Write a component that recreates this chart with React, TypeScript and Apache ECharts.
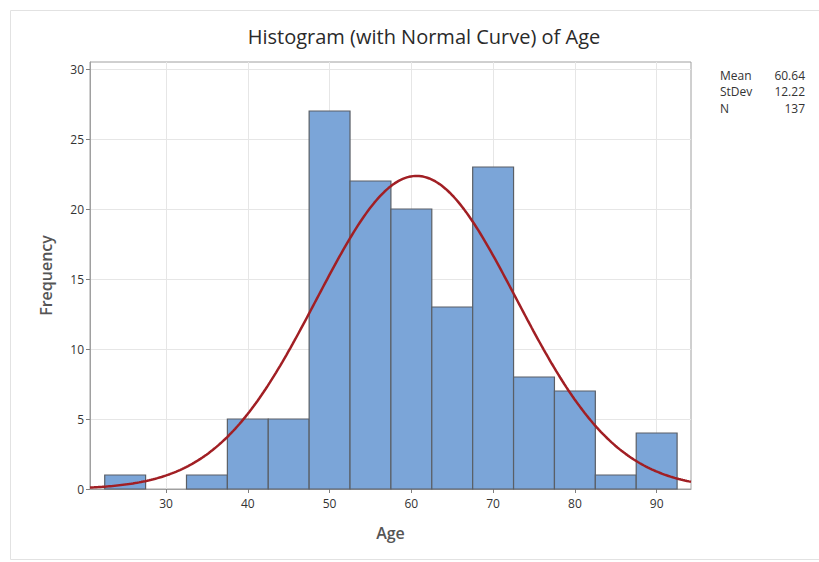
import React, { useEffect, useRef } from "react";
import * as echarts from "echarts";

const binCenters = [25, 30, 35, 40, 45, 50, 55, 60, 65, 70, 75, 80, 85, 90];
const counts = [1, 0, 1, 5, 5, 27, 22, 20, 13, 23, 8, 7, 1, 4];
const binWidth = 5;
const statLabels = ["Mean", "StDev", "N"];
const statValues = ["60.64", "12.22", "137"];
const mean = 60.64;
const stdev = 12.22;
const nObs = 137;
const xTicks = [30, 40, 50, 60, 70, 80, 90];
const yTicks = [0, 5, 10, 15, 20, 25, 30];
const xMin = 20.7;
const xMax = 94.2;
const yMax = 30.5;

const FONT = "'Open Sans', 'Noto Sans', sans-serif";

function normalCurve(): number[][] {
  const pts: number[][] = [];
  const k = (nObs * binWidth) / (stdev * Math.sqrt(2 * Math.PI));
  for (let x = xMin; x <= xMax + 1e-9; x += 0.25) {
    const z = (x - mean) / stdev;
    pts.push([x, k * Math.exp(-0.5 * z * z)]);
  }
  return pts;
}

export default function App() {
  const ref = useRef<HTMLDivElement>(null);
  useEffect(() => {
    if (!ref.current) return;
    const chart = echarts.init(ref.current, undefined, { renderer: "svg" });
    const histData = binCenters.map((c, i) => [c, counts[i]]);
    const statGraphics: any[] = [];
    statLabels.forEach((l, i) => {
      statGraphics.push({
        type: "text",
        left: 720,
        top: 69 + i * 16.5,
        style: { text: l, font: `12px ${FONT}`, fill: "#333" },
      });
      statGraphics.push({
        type: "text",
        right: 14,
        top: 69 + i * 16.5,
        style: { text: statValues[i], font: `12px ${FONT}`, fill: "#333", textAlign: "right" },
      });
    });
    chart.setOption({
      animation: false,
      backgroundColor: "#fff",
      title: {
        text: "Histogram (with Normal Curve) of Age",
        left: 419,
        textAlign: "center",
        top: 21,
        textStyle: { fontFamily: FONT, fontSize: 20, fontWeight: 500, color: "#2a2a2a" },
      },
      graphic: [
        {
          type: "rect",
          shape: { x: 10.5, y: 10.5, width: 830, height: 549 },
          style: { fill: "none", stroke: "#e2e2e2", lineWidth: 1 },
          silent: true,
        },
        ...statGraphics,
      ],
      grid: {
        left: 90,
        right: 128,
        top: 62,
        bottom: 73,
        show: true,
        borderColor: "#a0a0a0",
        borderWidth: 1,
        backgroundColor: "transparent",
      },
      xAxis: {
        type: "value",
        min: xMin,
        max: xMax,
        name: "Age",
        nameLocation: "middle",
        nameGap: 36,
        nameTextStyle: { fontFamily: FONT, fontSize: 16, fontWeight: 600, color: "#555" },
        axisLine: { show: true, onZero: false, lineStyle: { color: "#a0a0a0" } },
        axisTick: { show: true, length: 4, customValues: xTicks, lineStyle: { color: "#808080" } },
        axisLabel: { customValues: xTicks, fontFamily: FONT, fontSize: 12, color: "#333", margin: 8 },
        splitLine: { show: true, lineStyle: { color: "#e6e6e6" } },
      },
      yAxis: {
        type: "value",
        min: 0,
        max: yMax,
        name: "Frequency",
        nameLocation: "middle",
        nameGap: 36,
        nameTextStyle: { fontFamily: FONT, fontSize: 16, fontWeight: 600, color: "#555" },
        axisLine: { show: true, lineStyle: { color: "#a0a0a0" } },
        axisTick: { show: true, length: 4, customValues: yTicks, lineStyle: { color: "#808080" } },
        axisLabel: { customValues: yTicks, fontFamily: FONT, fontSize: 12, color: "#333", margin: 6 },
        splitLine: { show: true, lineStyle: { color: "#e6e6e6" } },
      },
      series: [
        {
          type: "custom",
          data: histData,
          z: 2,
          renderItem: (params: any, api: any) => {
            const c = api.value(0);
            const v = api.value(1);
            if (!v) return null;
            const p1 = api.coord([c - binWidth / 2, v]);
            const p2 = api.coord([c + binWidth / 2, 0]);
            return {
              type: "rect",
              shape: { x: p1[0], y: p1[1], width: p2[0] - p1[0], height: p2[1] - p1[1] },
              style: { fill: "#7BA5D8", stroke: "#5a5f66", lineWidth: 1.2 },
            };
          },
        },
        {
          type: "line",
          data: normalCurve(),
          showSymbol: false,
          symbol: "none",
          z: 3,
          lineStyle: { color: "#A11F24", width: 2.5 },
        },
      ],
    });
    return () => chart.dispose();
  }, []);
  return (
    <div
      ref={ref}
      style={{ position: "absolute", left: 0, top: 0, width: 819, height: 562 }}
    />
  );
}
